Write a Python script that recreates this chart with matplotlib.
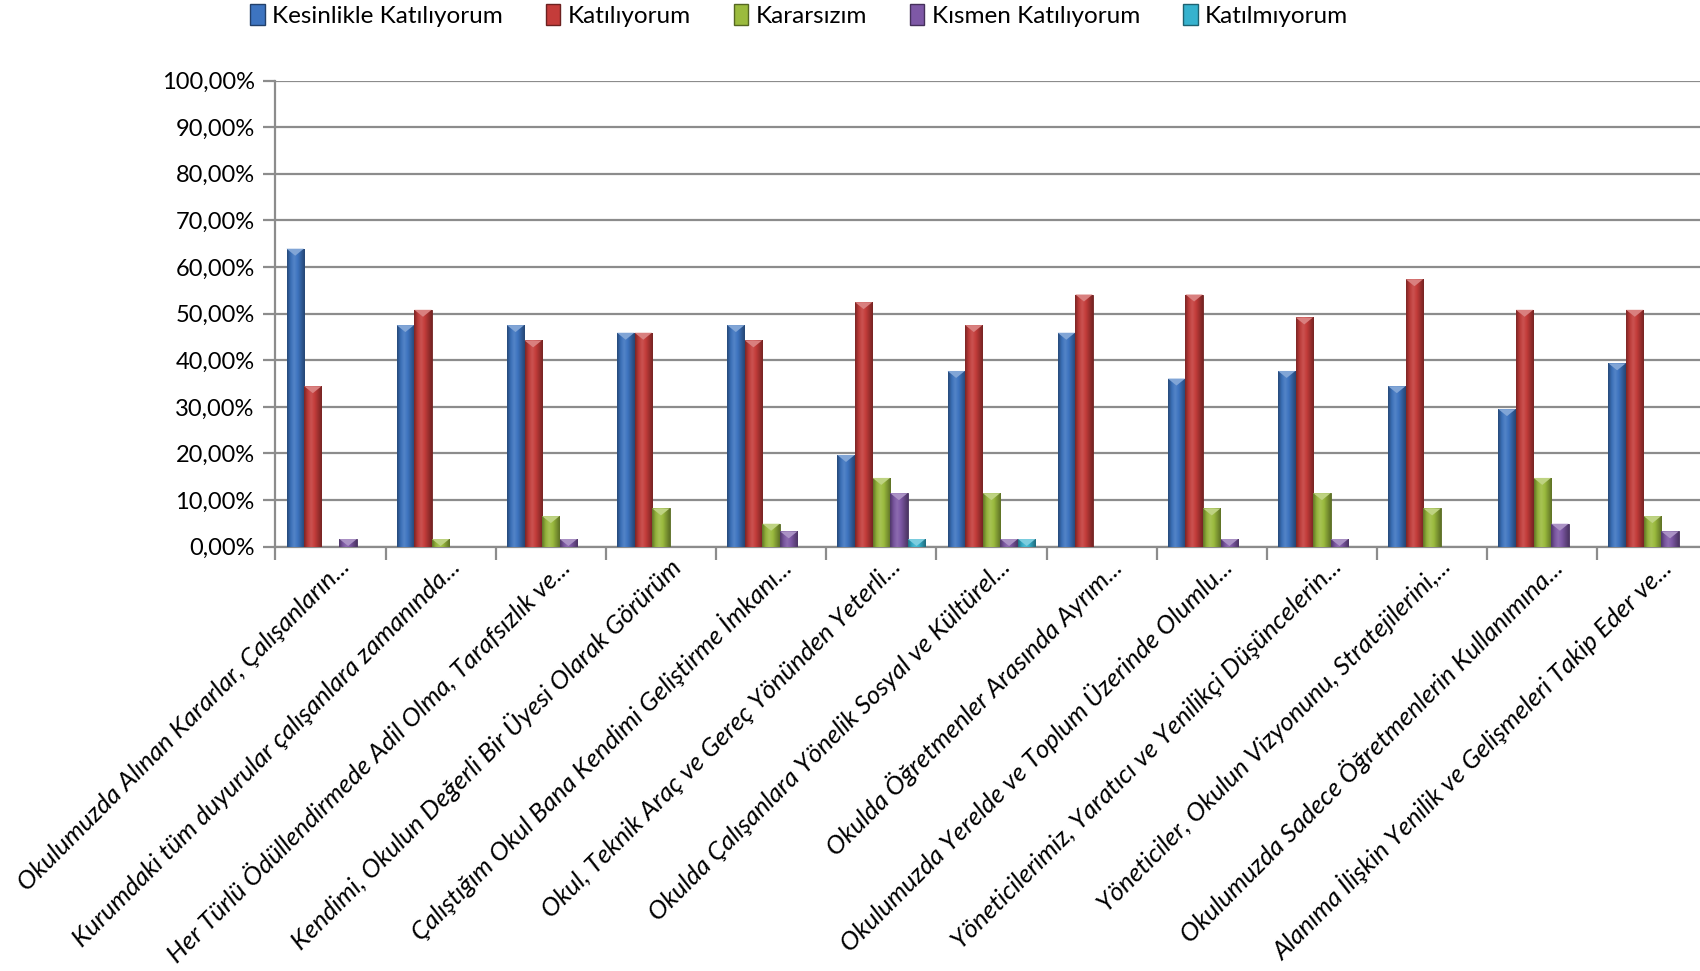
import numpy as np
import matplotlib
matplotlib.use("Agg")
import matplotlib.pyplot as plt
from matplotlib.colors import to_rgb, LinearSegmentedColormap
from matplotlib.patches import Polygon, Patch
from matplotlib.ticker import FuncFormatter, MultipleLocator

categories = [
    "Okulumuzda Alınan Kararlar, Çalışanların...",
    "Kurumdaki tüm duyurular çalışanlara zamanında...",
    "Her Türlü Ödüllendirmede Adil Olma, Tarafsızlık ve...",
    "Kendimi, Okulun Değerli Bir Üyesi Olarak Görürüm",
    "Çalıştığım Okul Bana Kendimi Geliştirme İmkanı...",
    "Okul, Teknik Araç ve Gereç Yönünden Yeterli...",
    "Okulda Çalışanlara Yönelik Sosyal ve Kültürel...",
    "Okulda Öğretmenler Arasında Ayrım...",
    "Okulumuzda Yerelde ve Toplum Üzerinde Olumlu...",
    "Yöneticilerimiz, Yaratıcı ve Yenilikçi Düşüncelerin...",
    "Yöneticiler, Okulun Vizyonunu, Stratejilerini,...",
    "Okulumuzda Sadece Öğretmenlerin Kullanımına...",
    "Alanıma İlişkin Yenilik ve Gelişmeleri Takip Eder ve...",
]
series_names = ["Kesinlikle Katılıyorum", "Katılıyorum", "Kararsızım",
                "Kısmen Katılıyorum", "Katılmıyorum"]
kesinlikle = [63.93, 47.54, 47.54, 45.90, 47.54, 19.67, 37.70, 45.90, 36.07, 37.70, 34.43, 29.51, 39.34]
katiliyorum = [34.43, 50.82, 44.26, 45.90, 44.26, 52.46, 47.54, 54.10, 54.10, 49.18, 57.38, 50.82, 50.82]
kararsizim = [0.00, 1.64, 6.56, 8.20, 4.92, 14.75, 11.48, 0.00, 8.20, 11.48, 8.20, 14.75, 6.56]
kismen = [1.64, 0.00, 1.64, 0.00, 3.28, 11.48, 1.64, 0.00, 1.64, 1.64, 0.00, 4.92, 3.28]
katilmiyorum = [0.00, 0.00, 0.00, 0.00, 0.00, 1.64, 1.64, 0.00, 0.00, 0.00, 0.00, 0.00, 0.00]
series_values = [kesinlikle, katiliyorum, kararsizim, kismen, katilmiyorum]
colors = ["#3D74C0", "#C43C3A", "#9BBB3E", "#7E58A6", "#36B2CE"]

plt.rcParams["font.family"] = ["Lato", "DejaVu Sans"]

fig = plt.figure(figsize=(17, 9.71), dpi=100)
ax = fig.add_axes([0.162, 0.437, 0.845, 0.48])

n = len(categories)
x = np.arange(n)
bw = 0.157
offsets = (np.arange(5) - 2) * bw * 1.02


def shade(c, f):
    r = np.array(to_rgb(c))
    if f >= 1:
        return tuple(r + (1 - r) * (f - 1))
    return tuple(r * f)


for si, (vals, col) in enumerate(zip(series_values, colors)):
    cmap = LinearSegmentedColormap.from_list(
        "g%d" % si,
        [shade(col, 0.62), shade(col, 0.95), shade(col, 1.12), shade(col, 1.0),
         shade(col, 0.8), shade(col, 0.6)])
    grad = np.linspace(0, 1, 64).reshape(1, -1)
    bars = ax.bar(x + offsets[si], vals, width=bw, color=col,
                  edgecolor=shade(col, 0.55), linewidth=0.6, zorder=3)
    for b, v in zip(bars, vals):
        if v <= 0:
            continue
        x0, w, h = b.get_x(), b.get_width(), b.get_height()
        im = ax.imshow(grad, extent=(x0, x0 + w, 0, h), aspect="auto",
                       cmap=cmap, zorder=3.5, interpolation="bicubic")
        im.set_clip_path(b)
        th = min(1.5, h)
        tri = Polygon([(x0, h), (x0 + w, h), (x0 + w / 2, h - th)], closed=True,
                      facecolor=shade(col, 1.35), edgecolor="none", zorder=4)
        ax.add_patch(tri)

ax.set_xlim(-0.5, n - 0.5 + 0.04)
ax.set_ylim(0, 100)
ax.yaxis.set_major_locator(MultipleLocator(10))
ax.yaxis.set_major_formatter(FuncFormatter(lambda v, p: ("%.2f%%" % v).replace(".", ",")))
ax.grid(axis="y", color="#8C8C8C", linewidth=1.6, zorder=0)
ax.set_axisbelow(True)
for s in ["top", "right"]:
    ax.spines[s].set_visible(False)
for s in ["left", "bottom"]:
    ax.spines[s].set_color("#8C8C8C")
    ax.spines[s].set_linewidth(1.6)
ax.tick_params(axis="y", length=9, width=1.6, color="#8C8C8C", labelsize=17, pad=6)

ax.set_xticks(np.arange(n + 1) - 0.5)
ax.set_xticklabels([])
ax.tick_params(axis="x", length=9, width=1.6, color="#8C8C8C")
for i, lab in enumerate(categories):
    ax.text(i + 0.14, -3.5, lab, rotation=45, ha="right", va="center",
            rotation_mode="anchor", fontsize=18.5, style="italic",
            transform=ax.transData, clip_on=False)

handles = [Patch(facecolor=c, edgecolor=shade(c, 0.55)) for c in colors]
fig.legend(handles, series_names, loc="upper center", bbox_to_anchor=(0.47, 1.018),
           ncol=5, frameon=False, fontsize=17.5, handlelength=0.6, handleheight=0.9,
           handletextpad=0.3, columnspacing=1.77)

fig.savefig("out.png", dpi=100)
